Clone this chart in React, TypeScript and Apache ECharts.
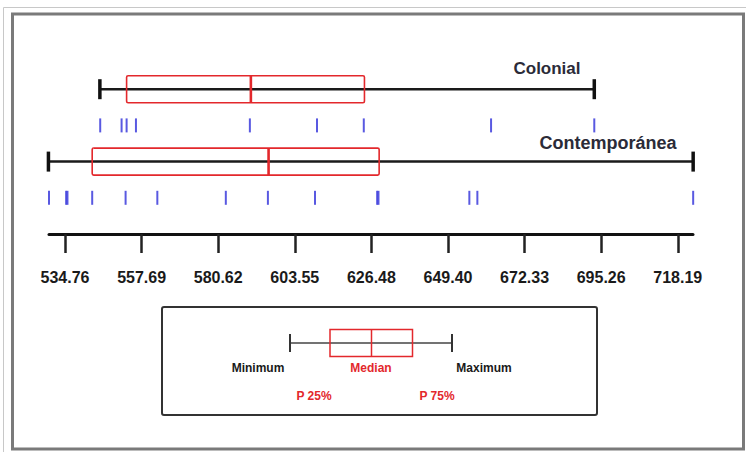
import React, { useEffect, useRef } from "react";
import * as echarts from "echarts";

// Tick labels of the value axis
const tickValues = [534.76, 557.69, 580.62, 603.55, 626.48, 649.4, 672.33, 695.26, 718.19];
const axisMin = 529.97;
const axisMax = 722.75;

// Box summaries: [row, min, p25, median, p75, max]
const colonialBox = [4, 545.2, 553.2, 590.4, 624.4, 693.2];
const contempBox = [2, 529.8, 542.9, 595.7, 628.8, 722.8];

// Individual observations (strip rows)
const colonialPoints = [545.3, 551.7, 553.2, 556.0, 590.1, 610.2, 624.2, 662.3, 693.2];
const contempPoints = [529.97, 535.1, 535.5, 542.9, 552.9, 562.4, 582.9, 595.5, 609.6, 628.2, 628.6, 655.8, 658.2, 722.8];
const colonialRow = 3;
const contempRow = 1;

const RED = "#e3282c";
const BLUE = "#3c3cdc";

export default function App() {
  const ref = useRef<HTMLDivElement>(null);
  useEffect(() => {
    if (!ref.current) return;
    const chart = echarts.init(ref.current, null, { renderer: "svg" });
    const renderBox = (params: any, api: any) => {
      const y = api.value(0);
      const pMin = api.coord([api.value(1), y]);
      const pQ1 = api.coord([api.value(2), y]);
      const pMed = api.coord([api.value(3), y]);
      const pQ3 = api.coord([api.value(4), y]);
      const pMax = api.coord([api.value(5), y]);
      const cy = pMin[1];
      const hb = 13.5;
      const hc = 10;
      return {
        type: "group",
        children: [
          { type: "line", shape: { x1: pMin[0], y1: cy, x2: pMax[0], y2: cy }, style: { stroke: "#1a1a1a", lineWidth: 2.5 } },
          { type: "line", shape: { x1: pMin[0], y1: cy - hc, x2: pMin[0], y2: cy + hc }, style: { stroke: "#111", lineWidth: 3.5 } },
          { type: "line", shape: { x1: pMax[0], y1: cy - hc, x2: pMax[0], y2: cy + hc }, style: { stroke: "#111", lineWidth: 3.5 } },
          { type: "rect", shape: { x: pQ1[0], y: cy - hb, width: pQ3[0] - pQ1[0], height: hb * 2, r: 1.5 }, style: { fill: "none", stroke: RED, lineWidth: 1.6 } },
          { type: "line", shape: { x1: pMed[0], y1: cy - hb, x2: pMed[0], y2: cy + hb }, style: { stroke: RED, lineWidth: 2.6 } },
        ],
      };
    };
    const legendFont = { fontSize: 12, fontWeight: "bold", fontFamily: "Liberation Sans", align: "center", verticalAlign: "middle" };
    chart.setOption({
      animation: false,
      backgroundColor: "#ffffff",
      grid: { left: 49, right: 53, top: 53, bottom: 218 },
      xAxis: {
        type: "value",
        min: axisMin,
        max: axisMax,
        position: "bottom",
        splitLine: { show: false },
        axisLine: { show: true, lineStyle: { color: "#111", width: 3 } },
        axisTick: { show: true, customValues: tickValues, length: 19, lineStyle: { color: "#222", width: 2.5 } },
        axisLabel: {
          customValues: tickValues,
          formatter: (v: number) => v.toFixed(2),
          margin: 35,
          fontSize: 16,
          fontWeight: "bold",
          fontFamily: "Liberation Sans",
          color: "#1a1a1a",
        },
      },
      yAxis: { type: "value", min: 0, max: 5, show: false },
      series: [
        {
          type: "custom",
          name: "Colonial",
          renderItem: renderBox,
          encode: { x: [1, 2, 3, 4, 5], y: 0 },
          data: [colonialBox],
          clip: false,
        },
        {
          type: "custom",
          name: "Contemporánea",
          renderItem: renderBox,
          encode: { x: [1, 2, 3, 4, 5], y: 0 },
          data: [contempBox],
          clip: false,
        },
        {
          type: "scatter",
          symbol: "rect",
          symbolSize: [2, 14],
          itemStyle: { color: BLUE, opacity: 0.85 },
          data: colonialPoints.map((v) => [v, colonialRow]),
          clip: false,
        },
        {
          type: "scatter",
          symbol: "rect",
          symbolSize: [2, 14],
          itemStyle: { color: BLUE, opacity: 0.85 },
          data: contempPoints.map((v) => [v, contempRow]),
          clip: false,
        },
      ],
      graphic: [
        { type: "line", shape: { x1: 3.5, y1: 7.5, x2: 746, y2: 7.5 }, style: { stroke: "#c8c8c8", lineWidth: 1 }, z: 1 },
        { type: "line", shape: { x1: 3.5, y1: 7.5, x2: 3.5, y2: 452 }, style: { stroke: "#c8c8c8", lineWidth: 1 }, z: 1 },
        { type: "rect", shape: { x: 12.5, y: 14, width: 731, height: 435 }, style: { fill: "none", stroke: "#7a7a7a", lineWidth: 3 }, z: 1 },
        { type: "text", x: 547, y: 68, style: { text: "Colonial", fontSize: 17, fontWeight: "bold", fontFamily: "Liberation Sans", fill: "#2b2b38", align: "center", verticalAlign: "middle" } },
        { type: "text", x: 608, y: 143, style: { text: "Contemporánea", fontSize: 18, fontWeight: "bold", fontFamily: "Liberation Sans", fill: "#2b2b38", align: "center", verticalAlign: "middle" } },
        // legend diagram
        { type: "rect", shape: { x: 162, y: 307, width: 435, height: 108, r: 2 }, style: { fill: "#fff", stroke: "#333", lineWidth: 2 } },
        { type: "line", shape: { x1: 290, y1: 343, x2: 452, y2: 343 }, style: { stroke: "#444", lineWidth: 1.5 } },
        { type: "line", shape: { x1: 290, y1: 334, x2: 290, y2: 352 }, style: { stroke: "#333", lineWidth: 2 } },
        { type: "line", shape: { x1: 452, y1: 334, x2: 452, y2: 352 }, style: { stroke: "#333", lineWidth: 2 } },
        { type: "rect", shape: { x: 330, y: 329.5, width: 82.5, height: 27 }, style: { fill: "none", stroke: RED, lineWidth: 1.5 } },
        { type: "line", shape: { x1: 371.5, y1: 329.5, x2: 371.5, y2: 356.5 }, style: { stroke: RED, lineWidth: 1.5 } },
        { type: "text", x: 258, y: 368, style: { ...legendFont, text: "Minimum", fill: "#1a1a1a" } },
        { type: "text", x: 371, y: 368, style: { ...legendFont, text: "Median", fill: RED } },
        { type: "text", x: 484, y: 368, style: { ...legendFont, text: "Maximum", fill: "#1a1a1a" } },
        { type: "text", x: 314, y: 396, style: { ...legendFont, text: "P 25%", fill: RED } },
        { type: "text", x: 437, y: 396, style: { ...legendFont, text: "P 75%", fill: RED } },
      ],
    });
    return () => chart.dispose();
  }, []);
  return <div ref={ref} style={{ position: "fixed", left: 0, top: 0, width: 746, height: 452 }} />;
}
